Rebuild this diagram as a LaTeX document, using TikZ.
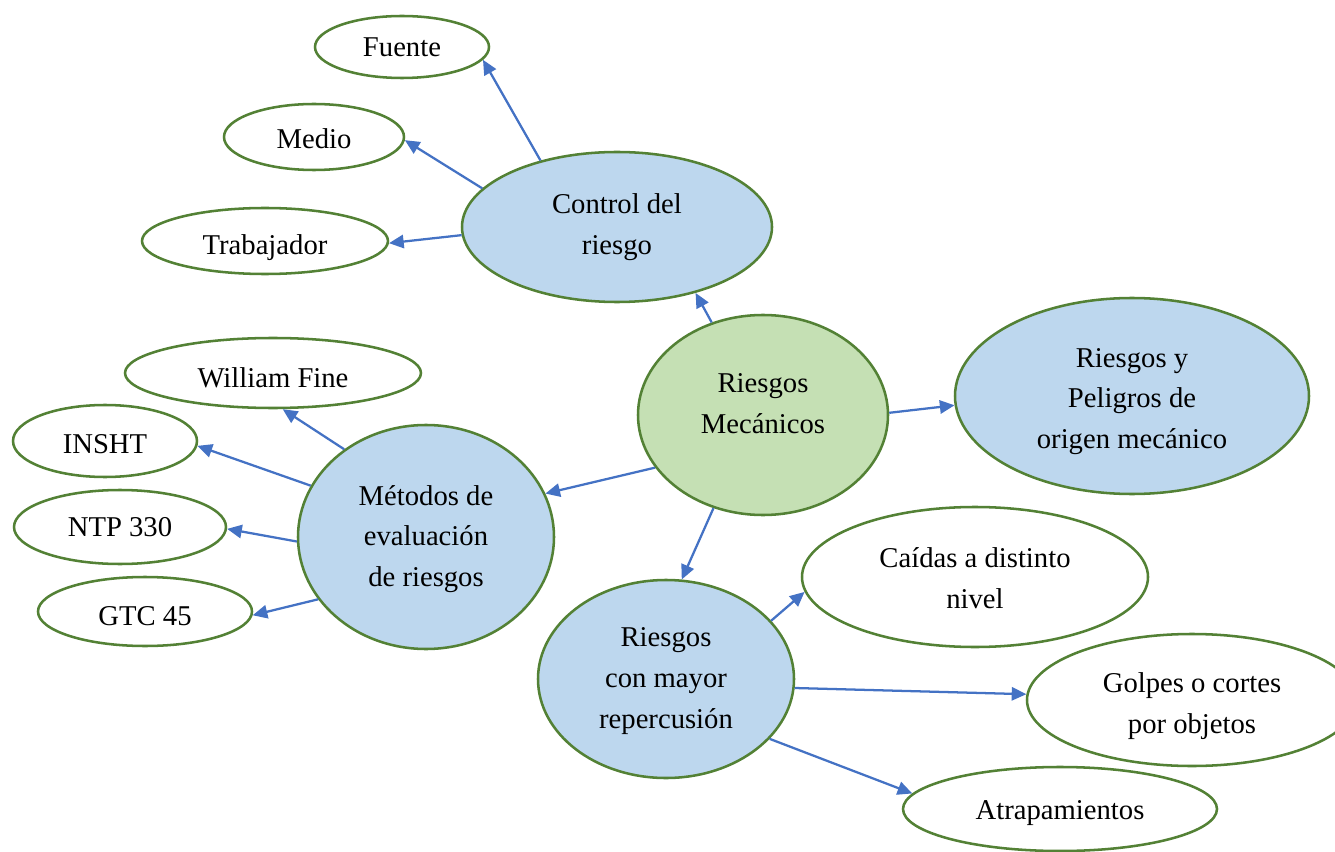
\documentclass[tikz,border=0pt]{standalone}
\usepackage{fontspec}
\setmainfont{Liberation Serif}
\usetikzlibrary{shapes.geometric,arrows.meta}

\definecolor{rimgreen}{HTML}{538135}
\definecolor{paleblue}{HTML}{BDD7EE}
\definecolor{palegreen}{HTML}{C5E0B4}
\definecolor{linkblue}{HTML}{4472C4}

\tikzset{
  caption/.style={inner sep=0pt, align=center, font=\fontsize{21.5}{30.5}\selectfont},
  bubble/.style={ellipse, draw=rimgreen, line width=1.9pt, fill=white, caption},
  topic/.style={bubble, fill=paleblue},
  core/.style={bubble, fill=palegreen},
  link/.style={draw=linkblue, line width=1.7pt,
    -{Triangle[length=11pt,width=10pt]}},
}

\begin{document}
\begin{tikzpicture}[x=0.75pt,y=-0.75pt]
\useasboundingbox (0,0) rectangle (1335,852);

% central theme and its branches
\node[core,  minimum width=187.5pt, minimum height=150pt,
      label={[caption,yshift=8.5pt]center:Riesgos\\Mecánicos}] (mec) at (763,415) {};
\node[topic, minimum width=232.5pt, minimum height=112.5pt] (ctrl) at (617,227) {Control del\\riesgo};
\node[topic, minimum width=265.5pt, minimum height=147pt,
      label={[caption,yshift=-4pt]center:Riesgos y\\Peligros de\\origen mecánico}] (pel) at (1132,396) {};
\node[topic, minimum width=192pt, minimum height=168pt,
      label={[caption,yshift=-1.5pt]center:Métodos de\\evaluación\\de riesgos}] (met) at (426,537) {};
\node[topic, minimum width=192pt, minimum height=148.5pt,
      label={[caption,yshift=-1.5pt]center:Riesgos\\con mayor\\repercusión}] (rep) at (666,679) {};

% control measures
\node[bubble, minimum width=130.5pt, minimum height=46.5pt] (fuente) at (402,47) {Fuente};
\node[bubble, minimum width=135pt, minimum height=49.5pt,
      label={[caption,yshift=-1.5pt]center:Medio}] (medio) at (314,137) {};
\node[bubble, minimum width=184.5pt, minimum height=49.5pt,
      label={[caption,yshift=-5pt]center:Trabajador}] (trab) at (265,241) {};

% evaluation methods
\node[bubble, minimum width=222pt, minimum height=52.5pt,
      label={[caption,yshift=-3.7pt]center:William Fine}] (fine) at (273,373) {};
\node[bubble, minimum width=138pt, minimum height=54pt,
      label={[caption,yshift=-2pt]center:INSHT}] (insht) at (105,441) {};
\node[bubble, minimum width=159pt, minimum height=55.5pt] (ntp) at (120,527) {NTP 330};
\node[bubble, minimum width=160.5pt, minimum height=51.75pt,
      label={[caption,yshift=-3.4pt]center:GTC 45}] (gtc) at (145,611.5) {};

% most frequent risks
\node[bubble, minimum width=259.5pt, minimum height=105pt,
      label={[caption,yshift=-1pt]center:Caídas a distinto\\nivel}] (caid) at (975,577) {};
\node[bubble, minimum width=247.5pt, minimum height=99pt,
      label={[caption,yshift=-4.5pt]center:Golpes o cortes\\por objetos}] (golp) at (1192,700) {};
\node[bubble, minimum width=235.5pt, minimum height=63pt,
      label={[caption,yshift=-3pt]center:Atrapamientos}] (atr) at (1060,809) {};

% connectors
\draw[link] (mec.119) -- (ctrl.-40);
\draw[link] (mec.1.4) -- (pel.183);
\draw[link] (mec.206) -- (met.20.7);
\draw[link] (mec.242) -- (rep.81.5);

\draw[link] (ctrl.139) -- (fuente.-9.5);
\draw[link] (ctrl.164) -- (medio.-2.5);
\draw[link] (ctrl.183) -- (trab.-1);

\draw[link] (met.133.6) -- (fine.-75);
\draw[link] (met.156.6) -- (insht.-3);
\draw[link] (met.182.7) -- (ntp.-1.6);
\draw[link] (met.210.4) -- (gtc.-2.1);

\draw[link] (rep.29.9) -- (caid.185.4);
\draw[link] (rep.-4) -- (golp.178.2);
\draw[link] (rep.-30.4) -- (atr.174.5);
\end{tikzpicture}
\end{document}
